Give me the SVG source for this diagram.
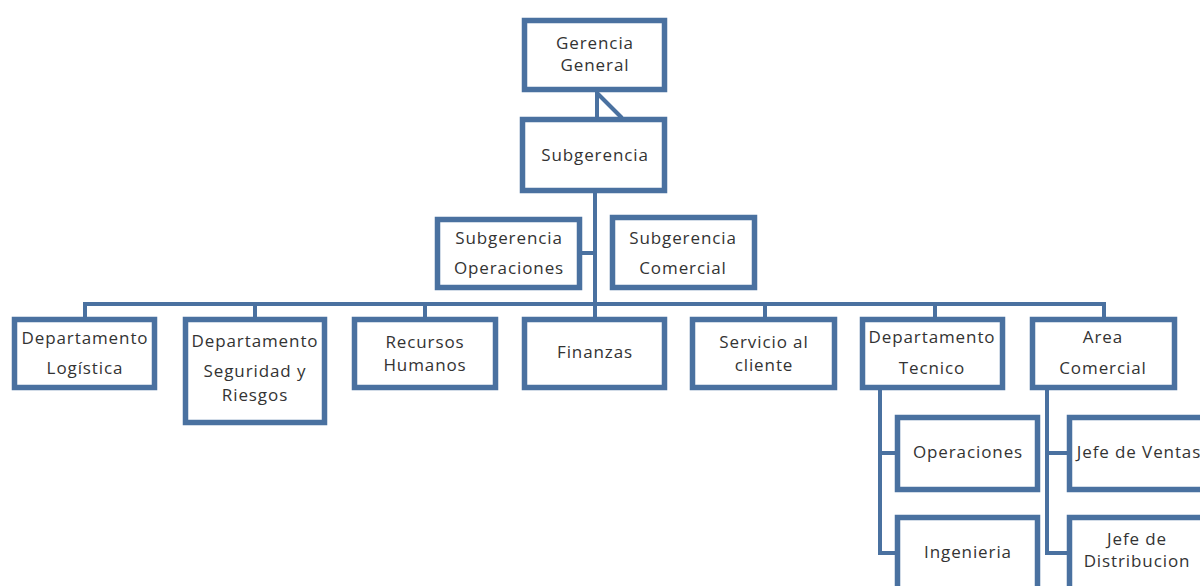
<svg xmlns="http://www.w3.org/2000/svg" width="1200" height="586" viewBox="0 0 1200 586">
<style>
.box{fill:#ffffff;stroke:#4a71a0;stroke-width:5.5}
.ln{fill:none;stroke:#4a71a0;stroke-width:4}
text{font-family:"Open Sans","Liberation Sans",sans-serif;font-size:17px;fill:#333333;text-anchor:middle;letter-spacing:0.9px}
</style>
<rect width="1200" height="586" fill="#ffffff"/>
<g id="connectors">
<line class="ln" x1="597" y1="92" x2="597" y2="120"/>
<line class="ln" x1="597" y1="93" x2="622" y2="118"/>
<line class="ln" x1="595" y1="193" x2="595" y2="317"/>
<line class="ln" x1="582" y1="253" x2="595" y2="253"/>
<path class="ln" d="M85 317 V304 H1104 V317"/>
<line class="ln" x1="255" y1="304" x2="255" y2="317"/>
<line class="ln" x1="425" y1="304" x2="425" y2="317"/>
<line class="ln" x1="765" y1="304" x2="765" y2="317"/>
<line class="ln" x1="935" y1="304" x2="935" y2="317"/>
<path class="ln" d="M880 390 V553 H895 M880 453 H895"/>
<path class="ln" d="M1047 390 V553 H1067 M1047 453 H1067"/>
</g>
<g id="n-gerencia"><rect class="box" x="524.5" y="20.5" width="140" height="69"/><text x="595" y="49">Gerencia</text><text x="595" y="71">General</text></g>
<g id="n-subgerencia"><rect class="box" x="522.5" y="119.5" width="142" height="71"/><text x="595" y="161">Subgerencia</text></g>
<g id="n-sub-operaciones"><rect class="box" x="437.5" y="219.5" width="142" height="68"/><text x="509" y="244">Subgerencia</text><text x="509" y="274">Operaciones</text></g>
<g id="n-sub-comercial"><rect class="box" x="612.5" y="217.5" width="142" height="70"/><text x="683" y="244">Subgerencia</text><text x="683" y="274">Comercial</text></g>
<g id="n-logistica"><rect class="box" x="14.5" y="319.5" width="140" height="68"/><text x="85" y="344">Departamento</text><text x="85" y="374">Logística</text></g>
<g id="n-seguridad"><rect class="box" x="185.5" y="319.5" width="139" height="103"/><text x="255" y="347">Departamento</text><text x="255" y="377">Seguridad y</text><text x="255" y="401">Riesgos</text></g>
<g id="n-recursos"><rect class="box" x="354.5" y="319.5" width="141" height="68"/><text x="425" y="348">Recursos</text><text x="425" y="371">Humanos</text></g>
<g id="n-finanzas"><rect class="box" x="524.5" y="319.5" width="140" height="68"/><text x="595" y="358">Finanzas</text></g>
<g id="n-servicio"><rect class="box" x="692.5" y="319.5" width="142" height="68"/><text x="764" y="348">Servicio al</text><text x="764" y="371">cliente</text></g>
<g id="n-tecnico"><rect class="box" x="862.5" y="319.5" width="140" height="68"/><text x="932" y="343">Departamento</text><text x="932" y="374">Tecnico</text></g>
<g id="n-area-comercial"><rect class="box" x="1032.5" y="319.5" width="142" height="68"/><text x="1103" y="343">Area</text><text x="1103" y="374">Comercial</text></g>
<g id="n-operaciones"><rect class="box" x="897.5" y="417.5" width="140" height="72"/><text x="968" y="458">Operaciones</text></g>
<g id="n-ingenieria"><rect class="box" x="897.5" y="517.5" width="140" height="75"/><text x="968" y="558">Ingenieria</text></g>
<g id="n-ventas"><rect class="box" x="1069.5" y="417.5" width="142" height="72"/><text x="1139" y="458">Jefe de Ventas</text></g>
<g id="n-distribucion"><rect class="box" x="1069.5" y="517.5" width="142" height="75"/><text x="1137" y="545">Jefe de</text><text x="1137" y="567">Distribucion</text></g>
</svg>
